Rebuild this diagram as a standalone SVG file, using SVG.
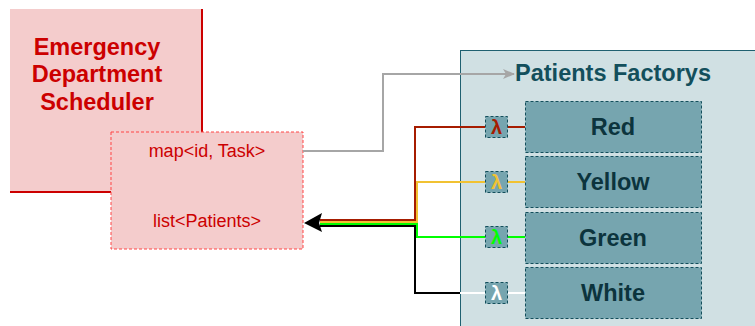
<svg xmlns="http://www.w3.org/2000/svg" width="755" height="326" viewBox="0 0 755 326">
<style>
.ttl{font-family:"Liberation Sans",Arial,sans-serif;font-weight:bold;font-size:23.5px;text-anchor:middle}
.red{fill:#cc0000}
.teal{fill:#134f5c}
.mid{font-family:"Liberation Sans",Arial,sans-serif;font-size:18px;fill:#cc0000;text-anchor:middle}
.fac{fill:#76a5af;stroke:#134f5c;stroke-width:1;stroke-dasharray:3,2}
.lam{fill:#76a5af;stroke:#134f5c;stroke-width:1;stroke-dasharray:3,2}
.lt{font-family:"Liberation Sans",Arial,sans-serif;font-weight:bold;font-size:20px;text-anchor:middle}
.fl{font-family:"Liberation Sans",Arial,sans-serif;font-weight:bold;font-size:23.5px;fill:#0c343d;text-anchor:middle}
.w{fill:none;stroke-width:2}
</style>
<defs>
<marker id="ga" markerWidth="12" markerHeight="10" refX="11" refY="5" orient="auto" markerUnits="userSpaceOnUse">
<path d="M0,0 L12,5 L0,10 L3,5 Z" fill="#a6a6a6"/>
</marker>
</defs>
<rect width="755" height="326" fill="#ffffff"/>
<g id="scheduler">
<rect x="10" y="9" width="192" height="183" fill="#f4cccc"/>
<path d="M202,9 V192 H10" fill="none" stroke="#cc0000" stroke-width="2"/>
<text class="ttl red" x="97" y="55">Emergency</text>
<text class="ttl red" x="97" y="82">Department</text>
<text class="ttl red" x="97" y="110">Scheduler</text>
</g>
<g id="factory">
<rect x="460.5" y="50.5" width="300" height="280" fill="#d0e0e3" stroke="#1f6070" stroke-width="1"/>
<text class="ttl teal" x="613" y="81">Patients Factorys</text>
</g>
<g id="data">
<rect x="111" y="132" width="192" height="117" fill="#f4cccc" stroke="#ff4444" stroke-width="1" stroke-dasharray="3,2"/>
<text class="mid" x="207" y="157">map&lt;id, Task&gt;</text>
<text class="mid" x="207" y="227">list&lt;Patients&gt;</text>
</g>
<g id="connectors">
<path class="w" d="M303,151 H383 V74 H514" stroke="#a6a6a6" marker-end="url(#ga)"/>
<path class="w" d="M485,127 H415 V220 H320" stroke="#a61c00"/>
<path class="w" d="M485,182 H417 V222 H320" stroke="#f1c232"/>
<path class="w" d="M485,237 H417 V224 H320" stroke="#00ff00"/>
<path class="w" d="M460,293 H415 V226 H320" stroke="#000000"/>
<path class="w" d="M485,293 H460" stroke="#ffffff"/>
<path class="w" d="M507,127 H525" stroke="#a61c00"/>
<path class="w" d="M507,182 H525" stroke="#f1c232"/>
<path class="w" d="M507,237 H525" stroke="#00ff00"/>
<path class="w" d="M507,293 H525" stroke="#ffffff"/>
<polygon points="304,223 322,213 319,223 322,232" fill="#000000"/>
</g>
<g id="lambda-red"><rect class="lam" x="485.5" y="116.5" width="22" height="21"/><text class="lt" x="496.5" y="134" fill="#a61c00">λ</text></g>
<g id="lambda-yellow"><rect class="lam" x="485.5" y="171.5" width="22" height="21"/><text class="lt" x="496.5" y="189" fill="#f1c232">λ</text></g>
<g id="lambda-green"><rect class="lam" x="485.5" y="226.5" width="22" height="21"/><text class="lt" x="496.5" y="244" fill="#00ff00">λ</text></g>
<g id="lambda-white"><rect class="lam" x="485.5" y="282.5" width="22" height="21"/><text class="lt" x="496.5" y="300" fill="#ffffff">λ</text></g>
<g id="red"><rect class="fac" x="525.5" y="101.5" width="176" height="51"/><text class="fl" x="613" y="135">Red</text></g>
<g id="yellow"><rect class="fac" x="525.5" y="156.5" width="176" height="51"/><text class="fl" x="613" y="190">Yellow</text></g>
<g id="green"><rect class="fac" x="525.5" y="212.5" width="176" height="51"/><text class="fl" x="613" y="246">Green</text></g>
<g id="white"><rect class="fac" x="525.5" y="267.5" width="176" height="51"/><text class="fl" x="613" y="301">White</text></g>
</svg>
